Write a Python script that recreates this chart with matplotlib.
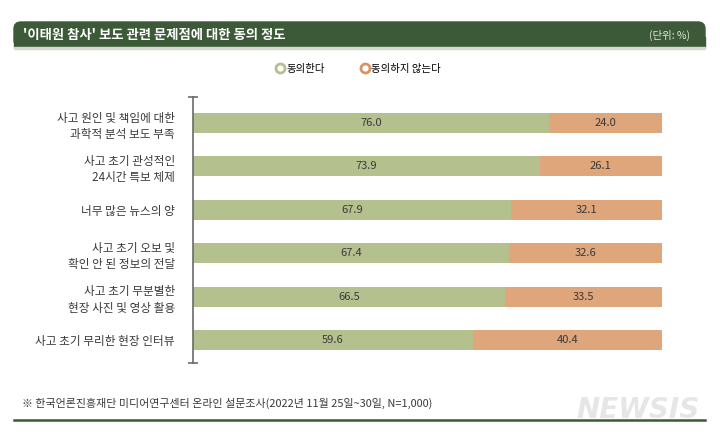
import matplotlib
matplotlib.use('Agg')
import matplotlib.pyplot as plt
from matplotlib.patches import FancyBboxPatch, Rectangle
from matplotlib.lines import Line2D
from matplotlib.transforms import IdentityTransform

plt.rcParams['font.family'] = ['Noto Sans CJK KR', 'DejaVu Sans']

categories = ['사고 원인 및 책임에 대한\n과학적 분석 보도 부족',
              '사고 초기 관성적인\n24시간 특보 체제',
              '너무 많은 뉴스의 양',
              '사고 초기 오보 및\n확인 안 된 정보의 전달',
              '사고 초기 무분별한\n현장 사진 및 영상 활용',
              '사고 초기 무리한 현장 인터뷰']
agree = [76.0, 73.9, 67.9, 67.4, 66.5, 59.6]
disagree = [24.0, 26.1, 32.1, 32.6, 33.5, 40.4]
series_names = ['동의한다', '동의하지 않는다']

green = '#b5c08f'
orange = '#dfa67b'
dark = '#3d5a38'
text_c = '#3a3a3a'

fig = plt.figure(figsize=(7.2, 4.41), dpi=100)
ax = fig.add_axes([193 / 720, 1 - 363 / 441, (662 - 193) / 720, (363 - 97) / 441])

y = list(range(len(categories)))
h = 0.46
ax.barh(y, agree, height=h, color=green, edgecolor='none')
ax.barh(y, disagree, left=agree, height=h, color=orange, edgecolor='none')

for i in y:
    ax.text(agree[i] / 2, i, f'{agree[i]:.1f}', ha='center', va='center',
            fontsize=8, color=text_c)
    ax.text(agree[i] + disagree[i] / 2, i, f'{disagree[i]:.1f}', ha='center',
            va='center', fontsize=8, color=text_c)

ax.set_xlim(0, 100)
ax.set_ylim(5.53, -0.6)
ax.set_xticks([])
ax.set_yticks(y)
ax.set_yticklabels(categories, fontsize=8.4, color=text_c, linespacing=1.35)
ax.tick_params(axis='y', length=0, pad=13)
for s in ['top', 'right', 'bottom']:
    ax.spines[s].set_visible(False)
ax.spines['left'].set_color('#6b6b6b')
ax.spines['left'].set_linewidth(1.2)
# small caps at both ends of the axis line
ax.plot([0, 0], [5.53, -0.6], ls='none', marker='_', markersize=7,
        color='#6b6b6b', mew=1.2, clip_on=False)

# header bar with rounded top corners
px = IdentityTransform()
hdr = FancyBboxPatch((14, 394), 691, 25, boxstyle='round,pad=0,rounding_size=7',
                     transform=px, color=dark, zorder=0)
fig.patches.append(hdr)
fig.patches.append(Rectangle((14, 394), 691, 10, transform=px, color=dark, zorder=0))
fig.patches.append(Rectangle((14, 392), 691, 2, transform=px, color='#d4d8d0', zorder=0))
fig.text(23 / 720, 1 - 35 / 441, "'이태원 참사' 보도 관련 문제점에 대한 동의 정도",
         color='white', fontsize=9.6, fontweight='bold', va='center', ha='left')
fig.text(690 / 720, 1 - 35 / 441, '(단위: %)', color='#dfe6d8', fontsize=7.5,
         va='center', ha='right')

# legend
handles = [Line2D([], [], ls='none', marker='o', markersize=6.5, mfc='white',
                  mec=c, mew=2) for c in [green, '#d99366']]
fig.legend(handles, series_names, loc='center', bbox_to_anchor=(0.497, 1 - 69 / 441),
           ncol=2, frameon=False, fontsize=7.5, handletextpad=0.1,
           columnspacing=3.3, handlelength=1)

# footnote and bottom rule
fig.text(22 / 720, 1 - 403 / 441,
         '※ 한국언론진흥재단 미디어연구센터 온라인 설문조사(2022년 11월 25일~30일, N=1,000)',
         fontsize=7.9, color=text_c, va='center', ha='left')
fig.lines.append(Line2D([14 / 720, 705 / 720], [1 - 420 / 441, 1 - 420 / 441],
                        transform=fig.transFigure, color=dark, lw=1.8))
fig.text(700 / 720, 1 - 410 / 441, 'NEWSIS', fontsize=20, fontweight='bold',
         fontstyle='italic', color='#e6e6e6', ha='right', va='center',
         family='DejaVu Sans', zorder=0)

fig.savefig('out.png', dpi=100)
